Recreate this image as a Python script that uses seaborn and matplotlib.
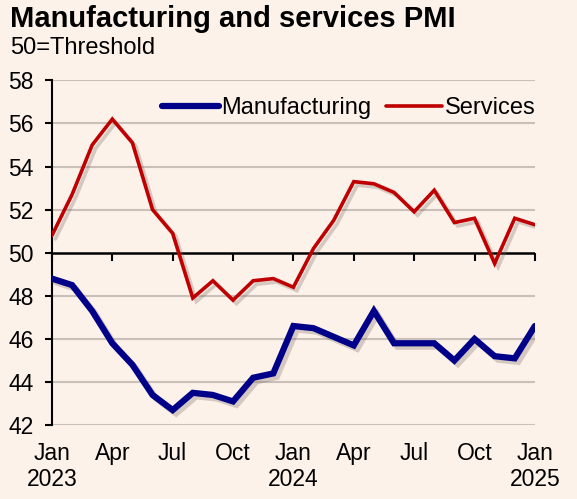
"""
plot.py
-------
Manufacturing and services PMI, Jan 2023 - Jan 2025.
"""

import numpy as np
import pandas as pd
import matplotlib
matplotlib.use("Agg")
import matplotlib.pyplot as plt
import matplotlib.patheffects as pe
import seaborn as sns

# ─── Data ────────────────────────────────────────────────────────────────────

months = pd.date_range("2023-01-01", "2025-01-01", freq="MS")

manufacturing = [48.8, 48.5, 47.3, 45.8, 44.8, 43.4, 42.7, 43.5, 43.4, 43.1,
                 44.2, 44.4, 46.6, 46.5, 46.1, 45.7, 47.3, 45.8, 45.8, 45.8,
                 45.0, 46.0, 45.2, 45.1, 46.6]
services = [50.8, 52.7, 55.0, 56.2, 55.1, 52.0, 50.9, 47.9, 48.7, 47.8,
            48.7, 48.8, 48.4, 50.2, 51.5, 53.3, 53.2, 52.8, 51.9, 52.9,
            51.4, 51.6, 49.5, 51.6, 51.3]

tick_labels = ["Jan\n2023", "Apr", "Jul", "Oct", "Jan\n2024", "Apr", "Jul",
               "Oct", "Jan\n2025"]
y_ticks = list(range(42, 59, 2))

BG = "#FDF2EA"
BLUE = "#000088"
RED = "#C00000"
GRID = "#C9C1B9"

# ─── Plot ────────────────────────────────────────────────────────────────────

sns.set_style("white")
plt.rcParams["font.family"] = ["Liberation Sans", "DejaVu Sans"]
plt.rcParams["text.color"] = "black"
plt.rcParams["xtick.color"] = "black"
plt.rcParams["ytick.color"] = "black"

df = pd.DataFrame({
    "idx": np.arange(len(months)),
    "Manufacturing": manufacturing,
    "Services": services,
})
long = df.melt(id_vars="idx", var_name="series", value_name="pmi")

fig = plt.figure(figsize=(5.77, 4.99), dpi=100, facecolor=BG)
ax = fig.add_axes([0.090, 0.148, 0.837, 0.691])
ax.set_facecolor(BG)

for y in y_ticks:
    if y == 50:
        ax.axhline(y, color="black", lw=1.8, zorder=1)
    else:
        ax.axhline(y, color=GRID, lw=1.5, zorder=0)

shadow = [pe.SimpleLineShadow(offset=(2.5, -2.5), shadow_color="#7a6a60", alpha=0.3),
          pe.Normal()]

sns.lineplot(data=long, x="idx", y="pmi", hue="series",
             palette={"Manufacturing": BLUE, "Services": RED},
             size="series", sizes={"Manufacturing": 4.5, "Services": 2.6},
             legend=False, ax=ax, zorder=3)
for line in ax.lines[-2:]:
    line.set_path_effects(shadow)
    line.set_solid_joinstyle("miter")

ax.set_xlim(0, len(months) - 1)
ax.set_ylim(42, 58)
ax.set_yticks(y_ticks)
ax.set_xticks(np.arange(0, len(months), 3))
ax.set_xticklabels(tick_labels)
ax.tick_params(axis="x", length=0, pad=12, labelsize=16.5, labelcolor="black")
ax.tick_params(axis="y", left=True, direction="out", length=5, width=1.5,
               labelsize=16.5, pad=8, labelcolor="black", color="black")
ax.set_xlabel("")
ax.set_ylabel("")

for side in ("top", "right", "bottom"):
    ax.spines[side].set_visible(False)
ax.spines["left"].set_color("black")
ax.spines["left"].set_linewidth(1.5)

# 50 threshold axis with quarterly ticks pointing down
sec = ax.secondary_xaxis(0.5)
sec.set_xticks(np.arange(0, len(months), 3))
sec.set_xticklabels([])
sec.tick_params(direction="in", length=6, width=1.5, color="black")
for side in ("top", "left", "right", "bottom"):
    sec.spines[side].set_visible(False)

handles = [plt.Line2D([], [], color=BLUE, lw=4.5, solid_capstyle="round"),
           plt.Line2D([], [], color=RED, lw=2.6)]
ax.legend(handles, ["Manufacturing", "Services"], loc="center right",
          bbox_to_anchor=(1.045, 0.92), ncol=2, frameon=False, fontsize=17,
          handlelength=2.4, handletextpad=0.1, columnspacing=0.6)

fig.text(0.018, 0.99, "Manufacturing and services PMI", ha="left", va="top",
         fontsize=21, fontweight="bold")
fig.text(0.018, 0.925, "50=Threshold", ha="left", va="top", fontsize=17)

fig.savefig("out.png", dpi=100, facecolor=BG)
